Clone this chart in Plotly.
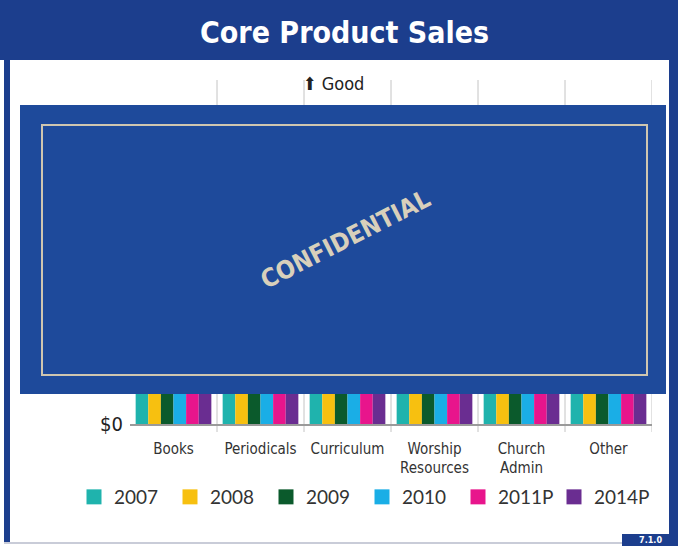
import plotly.graph_objects as go

# ---- data ----
categories = ["Books", "Periodicals", "Curriculum", "Worship<br>Resources", "Church<br>Admin", "Other"]
series_names = ["2007", "2008", "2009", "2010", "2011P", "2014P"]
# values are hidden behind the "CONFIDENTIAL" cover in the source; estimates only
v2007 = [22, 18, 25, 12, 14, 10]
v2008 = [21, 17, 24, 13, 15, 11]
v2009 = [20, 16, 23, 12, 14, 10]
v2010 = [19, 15, 22, 13, 15, 11]
v2011p = [20, 16, 23, 14, 16, 12]
v2014p = [23, 19, 26, 16, 18, 14]
series_values = [v2007, v2008, v2009, v2010, v2011p, v2014p]
colors = ["#1fb3ad", "#f7c010", "#0b5a2c", "#1aaee6", "#e8158c", "#6a2d91"]
ytick_vals = [0]
ytick_text = ["$0"]

W, H = 678, 546
L, R, T, B = 130, 652, 80, 424  # plot area in px


def px(x):
    return (x - L) / (R - L)


def py(y):
    return (B - y) / (B - T)


NARROW = "Liberation Sans Narrow, DejaVu Sans Condensed, Arial Narrow, sans-serif"
BLUE_BANNER = "#1c3e8d"
BLUE_COVER = "#1e4a9b"

fig = go.Figure()
for name, vals, col in zip(series_names, series_values, colors):
    fig.add_trace(go.Bar(x=categories, y=vals, name=name, marker_color=col,
                         marker_line_width=0, showlegend=False))
for name, col in zip(series_names, colors):
    fig.add_trace(go.Scatter(x=[None], y=[None], mode="markers", name=name,
                             marker=dict(symbol="square", size=15, color=col)))

shapes = []
# frame
shapes.append(dict(type="rect", xref="paper", yref="paper", x0=px(0), x1=px(W), y0=py(0), y1=py(60),
                   fillcolor=BLUE_BANNER, line_width=0, layer="below"))
shapes.append(dict(type="rect", xref="paper", yref="paper", x0=px(4), x1=px(10), y0=py(0), y1=py(543),
                   fillcolor=BLUE_BANNER, line_width=0, layer="below"))
shapes.append(dict(type="rect", xref="paper", yref="paper", x0=px(669), x1=px(W), y0=py(0), y1=py(543),
                   fillcolor=BLUE_BANNER, line_width=0, layer="below"))
shapes.append(dict(type="line", xref="paper", yref="paper", x0=px(4), x1=px(W), y0=py(543), y1=py(543),
                   line=dict(color="#c9ccd8", width=2), layer="below"))
# category boundary lines
for i in range(1, len(categories) + 1):
    shapes.append(dict(type="line", xref="x", yref="paper", x0=i - 0.5, x1=i - 0.5,
                       y0=-8 / (B - T), y1=1, line=dict(color="#c4c4c4", width=1), layer="below"))
# confidential cover
shapes.append(dict(type="rect", xref="paper", yref="paper", x0=px(20), x1=px(666), y0=py(394), y1=py(105),
                   fillcolor=BLUE_COVER, line_width=0, layer="above"))
shapes.append(dict(type="rect", xref="paper", yref="paper", x0=px(42), x1=px(647), y0=py(375), y1=py(125),
                   fillcolor="rgba(0,0,0,0)", line=dict(color="#cfc6b0", width=2), layer="above"))
# page number box
shapes.append(dict(type="rect", xref="paper", yref="paper", x0=px(622), x1=px(W), y0=py(H), y1=py(534),
                   fillcolor=BLUE_BANNER, line_width=0, layer="above"))

annotations = [
    dict(text="<b>Core Product Sales</b>", xref="paper", yref="paper", x=px(344), y=py(33),
         showarrow=False, font=dict(family=NARROW, size=30, color="white"), xanchor="center", yanchor="middle"),
    dict(text="⬆ Good", xref="paper", yref="paper", x=px(333), y=py(83),
         showarrow=False, font=dict(family=NARROW, size=18, color="#222222"), xanchor="center", yanchor="middle"),
    dict(text="<b>CONFIDENTIAL</b>", xref="paper", yref="paper", x=px(345), y=py(239),
         showarrow=False, textangle=-27, font=dict(family=NARROW, size=25, color="#d8d0bb"),
         xanchor="center", yanchor="middle"),
    dict(text="<b>7.1.0</b>", xref="paper", yref="paper", x=px(650), y=py(540),
         showarrow=False, font=dict(family=NARROW, size=9, color="white"), xanchor="center", yanchor="middle"),
]

fig.update_layout(
    width=W, height=H,
    margin=dict(l=L, r=W - R, t=T, b=H - B, pad=0),
    paper_bgcolor="white", plot_bgcolor="rgba(0,0,0,0)",
    barmode="group", bargap=0.13, bargroupgap=0,
    shapes=shapes, annotations=annotations,
    showlegend=True,
    legend=dict(orientation="h", x=px(74), y=py(497), xanchor="left", yanchor="middle",
                font=dict(family="Lato, Noto Sans, sans-serif", size=19, color="#333333"),
                entrywidth=51, entrywidthmode="pixels", itemsizing="trace",
                bgcolor="rgba(0,0,0,0)", tracegroupgap=0),
    xaxis=dict(range=[-0.5, len(categories) - 0.5], showgrid=False, showline=True,
               linecolor="#9a9a9a", linewidth=1.5, ticks="", ticklabelstandoff=10,
               tickfont=dict(family=NARROW, size=15, color="#333333"), fixedrange=True),
    yaxis=dict(range=[0, 40], tickvals=ytick_vals, ticktext=ytick_text, showgrid=False,
               zeroline=False, showline=False, ticks="", ticklabelstandoff=6,
               tickfont=dict(family=NARROW, size=20, color="#222222"), fixedrange=True),
)

fig.write_html("out.html", config={"displayModeBar": False},
               post_script="document.body.style.margin='0';document.body.style.padding='0';")
